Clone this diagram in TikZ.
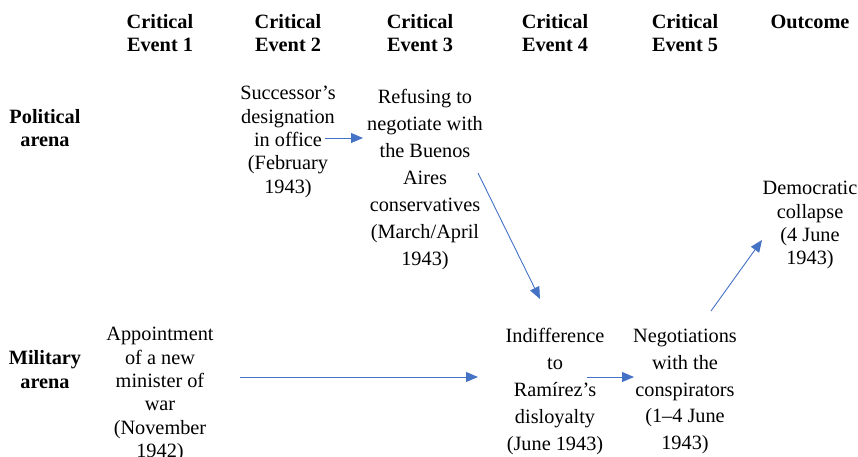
\documentclass[tikz,border=0pt]{standalone}
\usepackage{fontspec}
\setmainfont{Liberation Serif}
\usepackage{tikz}
\usetikzlibrary{arrows.meta}

\definecolor{arrowblue}{HTML}{4472C4}

\tikzset{
  head/.style={align=center,inner sep=0pt,font=\fontsize{20.3}{23.3}\selectfont\bfseries},
  txt/.style={align=center,inner sep=0pt,font=\fontsize{20.3}{23.3}\selectfont},
  wide/.style={align=center,inner sep=0pt,font=\fontsize{20.3}{26.9}\selectfont},
  arr/.style={draw=arrowblue,line width=0.9pt,-{Triangle[length=12pt,width=10pt]}}
}

\begin{document}
\begin{tikzpicture}[x=1pt,y=1pt]

  \useasboundingbox (0,0) rectangle (858,-457);

  %% Column headings
  \node[head] (ev1) at (160,-33) {Critical\\Event 1};
  \node[head] (ev2) at (288,-33) {Critical\\Event 2};
  \node[head] (ev3) at (420,-33) {Critical\\Event 3};
  \node[head] (ev4) at (555,-33) {Critical\\Event 4};
  \node[head] (ev5) at (685,-33) {Critical\\Event 5};
  \node[head] (outc) at (810,-21.5) {Outcome};

  %% Row headings
  \node[head] (pol) at (45,-128) {Political\\arena};
  \node[head] (mil) at (45,-369.5) {Military\\arena};

  %% Events in the political arena
  \node[txt] (succ) at (288,-142) {Successor's\\designation\\in office\\(February\\1943)};
  \node[wide] (refuse) at (425,-179.5) {Refusing to\\negotiate with\\the Buenos\\Aires\\conservatives\\(March/April\\1943)};
  \node[txt] (collapse) at (810,-225.2) {Democratic\\collapse\\(4 June\\1943)};

  %% Events in the military arena
  \node[txt] (appoint) at (160,-394.5) {Appointment\\of a new\\minister of\\war\\(November\\1942)};
  \node[wide] (indiff) at (555,-391.5) {Indifference\\to\\Ramírez's\\disloyalty\\(June 1943)};
  \node[wide] (negot) at (685,-391.5) {Negotiations\\with the\\conspirators\\(1--4 June\\1943)};

  %% Arrows between the events
  \draw[arr] ([shift={(37,4)}]succ.center) -- ([shift={(-62,41.5)}]refuse.center);
  \draw[arr] ([shift={(53,6.5)}]refuse.center) -- ([shift={(-15,92.5)}]indiff.center);
  \draw[arr] ([shift={(80,17.5)}]appoint.center) -- ([shift={(-77,14.5)}]indiff.center);
  \draw[arr] ([shift={(32,14.5)}]indiff.center) -- ([shift={(-51,14.5)}]negot.center);
  \draw[arr] ([shift={(26,80.5)}]negot.center) -- ([shift={(-48,-14.8)}]collapse.center);

\end{tikzpicture}
\end{document}
